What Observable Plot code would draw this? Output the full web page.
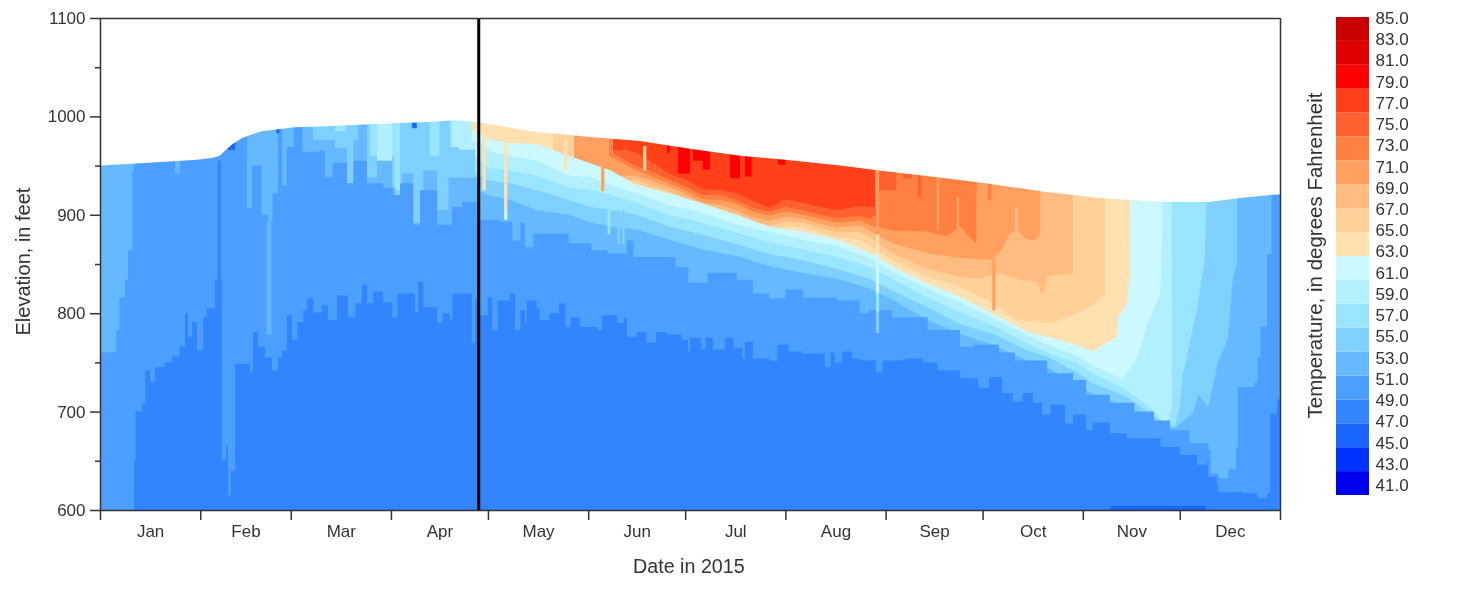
<!DOCTYPE html>
<html><head><meta charset="utf-8">
<script src="https://cdn.jsdelivr.net/npm/d3@7"></script>
<script src="https://cdn.jsdelivr.net/npm/@observablehq/plot@0.6"></script>
<style>
html,body{margin:0;padding:0;background:#fff;overflow:hidden}
#wrap{position:relative;width:1457px;height:597px;filter:blur(0.45px)}
#wrap svg{position:absolute;top:0;font-family:"Liberation Sans",Arial,sans-serif;color:#333}
</style></head><body><div id="wrap"></div>
<script>
// day of year (0 = Jan 1) and elevation in feet
const monthStarts=[0,31,59,90,120,151,181,212,243,273,304,334,365];
const monthMids=[15.5,45,74.5,105,135.5,166,196.5,227.5,258,288.5,319,349.5];
const monthNames=["Jan","Feb","Mar","Apr","May","Jun","Jul","Aug","Sep","Oct","Nov","Dec"];
const elevMajor=[600,700,800,900,1000,1100];
const elevMinor=[650,750,850,950,1050];
const legendLabels=[85,83,81,79,77,75,73,71,69,67,65,63,61,59,57,55,53,51,49,47,45,43,41];
const bandNames=["S1","S2","S3","S4","S5","S6","S7","S8","S9","S10","S11","S12","S13","S14","S15","S16","S17","S18","S19","S20"];
const bandColors=["#0000F0","#0033FF","#1A66FF","#3385FF","#4D9FFF","#66B8FF","#80D0FF","#99E5FF","#B3F0FF","#CCF8FF","#FFE0B0","#FFD199","#FFBB80","#FFA060","#FF8040","#FF6030","#FF4019","#FF0000","#E00000","#C80000"];
const surface=[[0,950],[10,952],[20,954],[30,956],[35,958],[37,960],[39,966],[41,972],[44,978],[48,983],[50,985],[55,987],[60,989],[70,990],[80,991.5],[90,993],[100,994],[110,996],[117,994],[133,985],[151.6,979],[167,975],[182.5,967],[198,960],[212,956],[229,950],[241,945],[257,939],[274,932],[291,924],[309,917],[318.6,915],[331,913],[343,913],[352.6,917],[365,921]];
const s17=[[162.5,1100],[239.8,1100]];
const s16=[[158.6,1100],[162.5,1100],[162.6,966],[166,963],[170,955],[176,942],[181.5,935],[186.5,926],[192,925],[197,922],[201.3,915],[207,907],[212,916],[217.5,912],[222.7,908],[228,905],[235,909],[238,908],[239.8,908],[239.9,1100],[246.5,1100]];
const s15=[[157.3,1100],[158.6,963],[166,949],[170,945],[176,936],[181.5,928],[186.5,920],[192,920],[197,915],[201.3,908],[207,903],[212,908],[217.5,905],[222.7,900],[228,897],[235,899],[238,896],[240,900],[240.1,925],[246.5,925],[246.6,1100],[271.6,1100]];
const s14=[[146.6,1100],[157.3,1100],[157.4,960],[166,945],[170,940],[176,932],[181.5,924],[186.5,916],[192,915],[197,911],[201.3,904],[207,899],[212,903],[217.5,900],[222.7,896],[228,892],[235,894],[238,890],[245,884],[256,883],[262,878],[266,888],[271,870],[271.6,1100],[291,1100]];
const s13=[[146.6,945],[153.6,940],[166,940],[170,935],[176,928],[181.5,920],[186.5,912],[192,910],[197,905],[201.3,898],[207,894],[212,898],[217.5,896],[222.7,891],[228,887],[235,889],[238,884],[245,871],[256,861],[266,856],[276,854],[279,865],[281,879],[283.6,885],[286,876],[289,874],[291,880],[291.1,1100],[301,1100]];
const s12=[[140,1100],[146.5,1100],[146.6,935],[153.6,930],[166,936],[170,930],[176,924],[181.5,916],[186.5,908],[192,905],[197,900],[201.3,893],[207,889],[212,893],[217.5,892],[222.7,887],[228,882],[235,883],[238,878],[245,861],[256,845],[266,837],[272,835],[278,840],[285,834],[290,832],[291,820],[292,820],[293,838],[297,839],[301,840],[301.1,1100],[311,1100]];
const s11=[[114,1100],[140,1100],[140.1,950],[146,938],[153.6,924],[166,932],[170,926],[176,920],[181.5,912],[186.5,904],[192,901],[197,896],[201.3,889],[207,885],[212,888],[217.5,887],[222.7,882],[228,877],[235,875],[238,869],[245,854],[256,837],[266,827],[276,810],[283.6,793],[293,790],[297,793],[301,798],[307,808],[311,820],[311.1,1100],[318.6,1100]];
const s10=[[115,985],[117,985],[120,977],[127,973],[135,972],[145,960],[152,952],[158,945],[166,930],[176,922],[186,912],[197,900],[207,888],[217,883],[228,875],[238,862],[245,848],[256,830],[266,817],[276,800],[287,781],[293,776],[302,768],[307,761],[311.8,771],[314.6,776],[314.9,796],[317.6,810],[318.6,840],[318.9,1100],[329,1100]];
const s9Early=[[108.9,1100],[115,1100]];
const s9=[[115,975],[117,975],[120,965],[127,960],[135,955],[145,940],[152,938],[158,930],[166,922],[176,910],[186,902],[197,890],[207,883],[217,875],[228,868],[238,856],[245,842],[256,825],[266,811],[276,795],[287,777],[293,768],[302,757],[307,747],[316,733],[320.6,753],[323.7,786],[328,820],[328.6,888],[329,1100],[331.6,1100]];
const s8Early=[[66,1100],[108.9,958],[117,955]];
const s8=[[117,955],[120,948],[127,945],[135,940],[145,928],[152,925],[158,920],[166,912],[176,900],[186,892],[197,882],[207,872],[217,865],[228,857],[238,847],[245,835],[256,816],[266,801],[276,788],[287,769],[293,760],[302,750],[307,739],[317.6,722],[325.6,702],[330,686],[331.5,705],[331.6,1100],[342.5,1100]];
const s7Early=[[66,1100],[72.7,985],[76,1100],[83.5,960],[91,925],[92.8,1100],[102,960],[105,1100],[108.3,969],[111,966],[116,942],[117,940]];
const s7=[[117,940],[120,935],[127,932],[135,925],[145,915],[152,908],[158,905],[166,900],[176,888],[186,880],[197,870],[207,860],[217,854],[228,845],[238,835],[245,823],[256,806],[266,789],[276,779],[287,762],[293,756],[302,740],[307,729],[317.6,715],[325.6,696],[330,685],[332.4,685],[334,705],[335,739],[336,752],[337,769],[339.3,803],[341.7,854],[342.3,915],[342.5,1100],[352,1100]];
const s6Early=[[0,1100],[66,976],[72.7,968],[76.4,932],[78.4,976],[79.8,1100],[82.6,938],[85.7,958],[90.4,928],[91.3,918],[93.4,942],[96.9,892],[100,945],[104.3,905],[107.8,938],[116.6,932],[117,925]];
const s6=[[117,925],[120,920],[127,915],[135,905],[145,900],[152,892],[158,888],[166,885],[176,875],[186,865],[197,858],[207,848],[217,841],[228,835],[238,825],[245,814],[256,793],[266,779],[276,768],[287,752],[293,745],[302,728],[307,718],[317.6,705],[325.6,690],[332.4,683],[338,698],[339.8,717],[342.8,705],[346,752],[348.8,773],[350.5,837],[351.7,850],[351.8,1100],[365,1100]];
const s5=[[0,760],[5,783],[6,816],[7.7,834],[8.7,864],[10,945],[10.5,1100],[23.2,942],[24.7,1100],[45.5,907],[47,950],[49.5,950],[50,900],[52,893],[53.4,922],[55,1100],[56.3,930],[57.8,969],[60,1100],[62.6,964],[68,965],[69.6,938],[72,953],[76.4,932],[78.4,955],[82.6,932],[87.6,927],[90.7,920],[92.8,932],[96.9,890],[99,925],[104.3,890],[108.9,908],[112,913],[116.6,892],[117.5,895],[124,893],[127.5,874],[130,892],[131.5,867],[134,881],[145,871],[152,864],[157,861],[163,874],[165,857],[171,857],[178,847],[182,831],[188,841],[197,834],[202,820],[207,815],[212,824],[217.5,816],[228,813],[235,800],[238,803],[245,796],[256,783],[266,766],[270,768],[278,760],[283,752],[293,739],[301,732],[305,717],[312.4,709],[320,700],[326,691],[331,681],[337,668],[342.8,661],[343.5,637],[346,632],[349,642],[351.4,664],[352,725],[357,729],[358,755],[359,786],[361,860],[362.4,1100],[365,1100]];
const s4=[[10.5,650],[11,700],[13,708],[14,742],[15.5,730],[17,745],[20,750],[22.3,756],[24.7,766],[26.3,800],[27.2,776],[28.5,791],[30,762],[31.9,796],[33,805],[35.6,834],[37.7,651],[39,665],[39.6,615],[40.5,640],[41.8,749],[46.4,740],[47.3,781],[48.9,766],[51,755],[53.2,742],[55,755],[56.3,762],[57.8,798],[59.4,773],[61,791],[62.9,803],[64,815],[66,801],[68.6,808],[70.5,793],[73.3,818],[76.7,796],[79,810],[81,829],[82.6,810],[84.5,822],[87.6,811],[90.4,796],[92,820],[97.4,801],[98.4,832],[100,806],[104.3,790],[106,800],[108.3,793],[109,820],[115,770],[116,815],[117.5,798],[120,816],[121.3,783],[123,813],[126.8,820],[128.4,783],[130,803],[131.5,790],[132,813],[135,805],[136,793],[139,800],[142,810],[144,786],[145.6,796],[148.5,786],[154,783],[155.3,798],[160,790],[162,795],[163,776],[166,781],[169,770],[172,781],[175.3,778],[180,773],[181.9,761],[182.5,775],[186,763],[187.3,775],[189.6,763],[193.3,775],[196,765],[198.7,754],[199.5,771],[202,754],[207,752],[209.5,768],[213,761],[217,759],[224.2,745],[226,760],[227.3,750],[229.5,761],[232.6,754],[235,752],[240,740],[242,752],[249,754],[254.6,750],[259,742],[266,734],[271.6,724],[275,735],[279,719],[282.4,710],[285.4,719],[288.6,709],[291.4,697],[294,707],[298.5,688],[301,697],[305,681],[307,689],[312.4,678],[317.6,673],[324,673],[328,664],[334,656],[339.3,646],[342.5,651],[342.8,634],[345.4,627],[345.8,618],[353.5,617],[358,612],[361,617],[362,698],[364,712],[365,712]];
// narrow columns and patches: first day, last day, low elevation, high elevation, band
const patches=[
[36.4,37.4,600,955,"S4"],[51.5,53,778,893,"S6"],
[39.6,41.8,966,978,"S3"],[54.5,55.5,983,989,"S3"],[96.5,98,988,994,"S3"],[312.5,342,600,604,"S3"],
[85.7,90.4,955,1100,"S9"],
[118.3,119.3,925,985,"S11"],[125,126,905,985,"S11"],[125,126,895,905,"S10"],[155,156,924,950,"S14"],
[143.5,144.5,945,975,"S11"],[168,169,945,970,"S12"],[157,157.8,880,905,"S8"],[160,160.8,870,905,"S7"],[161.5,162.3,870,905,"S7"],
[158.6,162.5,966,1100,"S17"],
[178.8,182.5,942,1100,"S18"],[186.5,188.7,946,1100,"S18"],[183.4,186.5,955,1100,"S18"],[194.9,198,937,1100,"S18"],[199.5,201.6,939,1100,"S18"],[175.4,176.3,963,1100,"S18"],[209.7,212,951,1100,"S18"],
[240,241,880,950,"S14"],[240,241,860,880,"S11"],[240,241,820,860,"S10"],[240,241,800,820,"S8"],[240,241,780,800,"S7"],
[276,277,803,855,"S14"],[258.8,259.6,885,938,"S14"],[265,265.8,880,918,"S14"],[253,254,918,945,"S16"],[274.7,275.8,915,932,"S15"],[283,284,875,908,"S13"],[248.5,251,937,945,"S16"]];
const bands=[["S17",s17,"linear"],["S16",s16,"linear"],["S15",s15,"linear"],["S14",s14,"linear"],["S13",s13,"linear"],["S12",s12,"linear"],["S11",s11,"linear"],["S10",s10,"linear"],["S9",s9Early,"linear"],["S9",s9,"linear"],["S8",s8Early,"step-after"],["S8",s8,"linear"],["S7",s7Early,"step-after"],["S7",s7,"linear"],["S6",s6Early,"step-after"],["S6",s6,"linear"],["S5",s5,"step-after"],["S4",s4,"step-after"]];
const ink="#333";
const main=Plot.plot({
  width:1300,height:597,marginLeft:100,marginRight:20,marginTop:18,marginBottom:87,
  style:{fontFamily:"Liberation Sans, Arial, sans-serif",fontSize:"17px",background:"transparent",overflow:"visible"},
  x:{domain:[0,365],axis:null},y:{domain:[600,1100],axis:null},
  color:{type:"ordinal",domain:bandNames,range:bandColors},
  marks:[
    ...bands.map(([name,pts,curve])=>Plot.areaY(pts,{x:d=>d[0],y1:600,y2:d=>d[1],fill:()=>name,curve})),
    Plot.rect(patches,{x1:d=>d[0],x2:d=>d[1],y1:d=>d[2],y2:d=>d[3],fill:d=>d[4]}),
    Plot.areaY(surface,{x:d=>d[0],y1:d=>d[1],y2:1100,fill:"#fff"}),
    Plot.ruleX([117],{stroke:"#000",strokeWidth:3}),
    Plot.ruleY([1100],{stroke:ink,strokeWidth:1.5}),Plot.ruleY([600],{stroke:ink,strokeWidth:1.5}),
    Plot.ruleX([0],{stroke:ink,strokeWidth:1.5}),Plot.ruleX([365],{stroke:ink,strokeWidth:1.5}),
    Plot.axisY({ticks:elevMajor,tickSize:10,tickPadding:5,tickFormat:d=>String(d),label:null,stroke:ink,strokeWidth:1.5,fontSize:17}),
    Plot.axisY({ticks:elevMinor,tickSize:5,tickFormat:()=>"",label:null,stroke:ink,strokeWidth:1.5}),
    Plot.axisX({ticks:monthStarts,tickSize:10,tickFormat:()=>"",label:null,stroke:ink,strokeWidth:1.5}),
    Plot.axisX({ticks:monthMids,tickSize:0,tickPadding:21,tickFormat:(d,i)=>monthNames[i],label:null,fontSize:17,lineAnchor:"middle"}),
    Plot.text(["Date in 2015"],{x:[182],y:[600],dy:56,fontSize:19.7,fill:ink}),
    Plot.text(["Elevation, in feet"],{x:[0],y:[853],dx:-77,rotate:-90,fontSize:20,fill:ink})
  ]});
const legend=Plot.plot({
  width:161,height:597,marginLeft:40,marginRight:88,marginTop:17,marginBottom:102,
  style:{fontFamily:"Liberation Sans, Arial, sans-serif",background:"transparent",overflow:"visible"},
  x:{domain:[0,1],axis:null},y:{domain:[0,20],axis:null},
  color:{type:"ordinal",domain:bandNames,range:bandColors},
  marks:[
    Plot.rect(bandNames,{x1:0,x2:1,y1:(d,i)=>i,y2:(d,i)=>i+1,fill:d=>d}),
    Plot.text(legendLabels,{x:1,y:d=>(d-40.06)/2.252,dx:6,textAnchor:"start",text:d=>d.toFixed(1),fontSize:17,fill:ink}),
    Plot.text(["Temperature, in degrees Fahrenheit"],{x:[-0.65],y:[10.04],rotate:-90,fontSize:20.5,fill:ink})
  ]});
legend.style.left="1296px";
main.style.left="0px";
const wrap=document.getElementById("wrap");
wrap.append(main,legend);
</script></body></html>
